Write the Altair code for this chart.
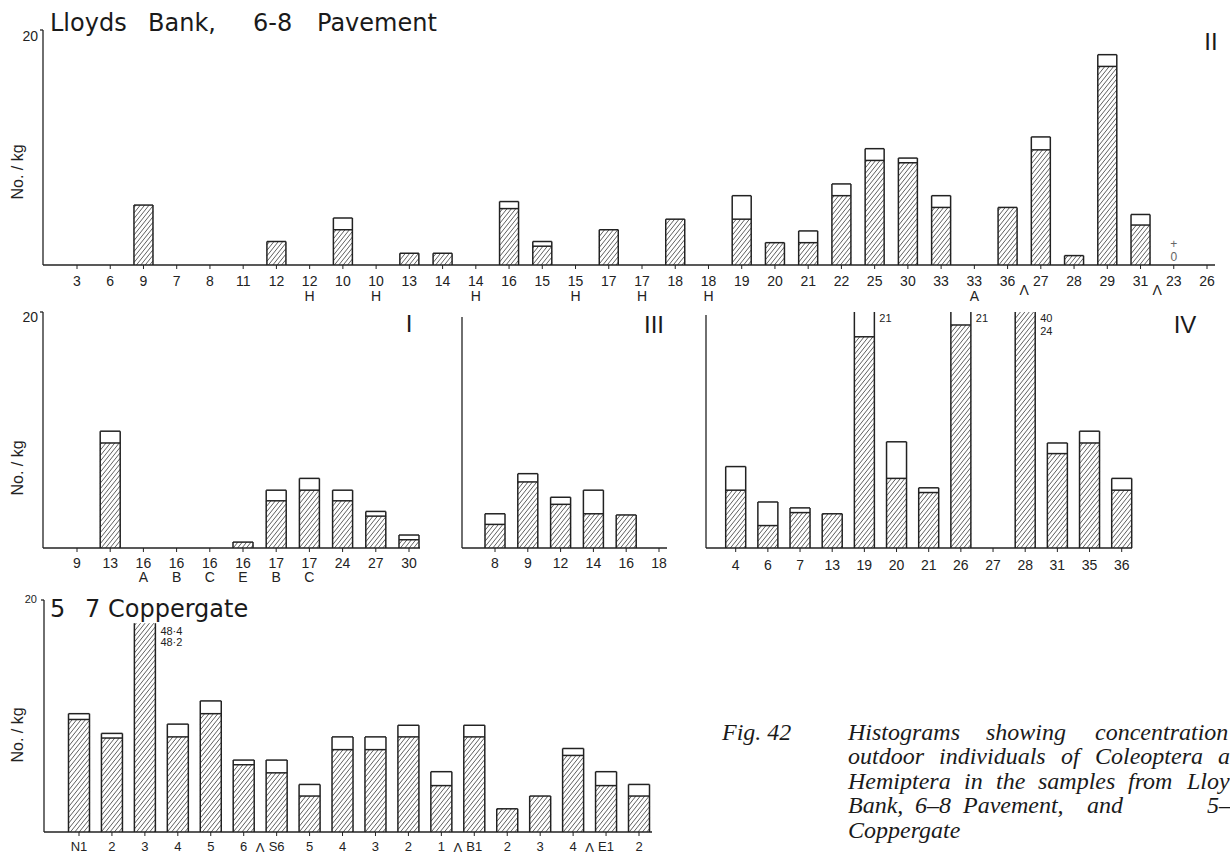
import altair as alt
import pandas as pd

# ---------------------------------------------------------------------------
# Concentrations (No./kg) of outdoor Coleoptera (hatched part of each bar)
# and Coleoptera + Hemiptera (whole bar) per sample.
# A "\n" in a label puts the sub-sample letter on a second line.
# ---------------------------------------------------------------------------

# Lloyds Bank, 6-8 Pavement - period II
ii_labels = ["3", "6", "9", "7", "8", "11", "12", "12\nH", "10", "10\nH", "13", "14",
             "14\nH", "16", "15", "15\nH", "17", "17\nH", "18", "18\nH", "19", "20",
             "21", "22", "25", "30", "33", "33\nA", "36", "27", "28", "29", "31", "23", "26"]
ii_coleoptera = [0, 0, 5.1, 0, 0, 0, 2.0, 0, 3.0, 0, 1.0, 1.0, 0, 4.8, 1.6, 0, 3.0, 0,
                 3.9, 0, 3.9, 1.9, 1.9, 5.9, 8.9, 8.7, 4.9, 0, 4.9, 9.8, 0.8, 16.9, 3.4, 0, 0]
ii_total = [0, 0, 5.1, 0, 0, 0, 2.0, 0, 4.0, 0, 1.0, 1.0, 0, 5.4, 2.0, 0, 3.0, 0,
            3.9, 0, 5.9, 1.9, 2.9, 6.9, 9.9, 9.1, 5.9, 0, 4.9, 10.9, 0.8, 17.9, 4.3, 0, 0]
ii_breaks = [28, 32]              # a caret follows these samples
ii_notes = [(33, "+\n0")]

# period I
i_labels = ["9", "13", "16\nA", "16\nB", "16\nC", "16\nE", "17\nB", "17\nC", "24", "27", "30"]
i_coleoptera = [0, 8.9, 0, 0, 0, 0.5, 4.0, 4.9, 4.0, 2.7, 0.7]
i_total = [0, 9.9, 0, 0, 0, 0.5, 4.9, 5.9, 4.9, 3.1, 1.1]

# period III
iii_labels = ["8", "9", "12", "14", "16", "18"]
iii_coleoptera = [2.0, 5.6, 3.7, 2.9, 2.8, 0]
iii_total = [2.9, 6.3, 4.3, 4.9, 2.8, 0]

# period IV
iv_labels = ["4", "6", "7", "13", "19", "20", "21", "26", "27", "28", "31", "35", "36"]
iv_coleoptera = [4.9, 1.9, 3.0, 2.9, 17.9, 5.9, 4.7, 18.9, 0, 24, 8.0, 8.9, 4.9]
iv_total = [6.9, 3.9, 3.4, 2.9, 21, 9.0, 5.1, 21, 0, 40, 8.9, 9.9, 5.9]

# 5-7 Coppergate
cg_labels = ["N1", "2", "3", "4", "5", "6", "S6", "5", "4", "3", "2", "1", "B1", "2",
             "3", "4", "E1", "2"]
cg_coleoptera = [9.7, 8.1, 48.2, 8.2, 10.2, 5.8, 5.1, 3.1, 7.1, 7.1, 8.2, 4.0, 8.2, 2.0,
                 3.1, 6.6, 4.0, 3.1]
cg_total = [10.2, 8.5, 48.4, 9.3, 11.3, 6.2, 6.2, 4.1, 8.2, 8.2, 9.2, 5.2, 9.2, 2.0,
            3.1, 7.2, 5.2, 4.1]
cg_breaks = [5, 11, 15]

# ---------------------------------------------------------------------------
# Page geometry of each panel (pixels)
# ---------------------------------------------------------------------------
GEOM = {
    "II": dict(first=77, last=1207, base=265, top=30, axis_x=43, axis_top=30, end=1215,
               cap=20, half=9.5, lab_dy=21, lab_lh=15, lab_size=14, mark20=True,
               caret_dy=26),
    "I": dict(first=77, last=409, base=548, top=312, axis_x=43, axis_top=312, end=420,
              cap=20, half=10, lab_dy=20, lab_lh=14, lab_size=14, mark20=True),
    "III": dict(first=495, last=659, base=548, top=312, axis_x=462, axis_top=317, end=667,
                cap=20, half=10, lab_dy=20, lab_lh=14, lab_size=14, mark20=False),
    "IV": dict(first=735.7, last=1121.7, base=548, top=312, axis_x=706, axis_top=315,
               end=1132, cap=20, half=10, lab_dy=22, lab_lh=14, lab_size=14, mark20=False,
               over_dy=1, over_lh=13),
    "CG": dict(first=79, last=639, base=832, top=600, axis_x=44, axis_top=600, end=652,
               cap=18, half=10.5, lab_dy=19, lab_lh=14, lab_size=13, mark20=True,
               over_dy=3, over_lh=11, caret_dy=16),
}

INK = "#222222"
HATCH = "#4d4d4d"
SANS = "Liberation Sans"


def fmt(v):
    return str(int(v)) if float(v).is_integer() else str(v).replace(".", "\u00b7")


def hatch_lines(xl, xr, h, slope=0.8, gap=4.4):
    """Diagonal '/' hatching clipped to a rectangle (pixel units, v measured up)."""
    out = []
    c = (int((xl - slope * h) // gap)) * gap
    while c < xr:
        v0 = max(0.0, (xl - c) / slope)
        v1 = min(h, (xr - c) / slope)
        if v1 > v0 + 0.3:
            out.append((c + slope * v0, v0, c + slope * v1, v1))
        c += gap
    return out


def panel(labels, coleoptera, total, g, breaks=(), notes=()):
    n = len(labels)
    step = (g["last"] - g["first"]) / (n - 1)
    ppu = (g["base"] - g["top"]) / 20.0
    cap = g["cap"]
    hw = g["half"] / step

    def to_x(px):
        return (px - g["first"]) / step

    def to_y(py):
        return (g["base"] - py) / ppu

    xs = alt.Scale(domain=[0, n - 1], range=[g["first"], g["last"]], nice=False, zero=False)
    ys = alt.Scale(domain=[0, 20], range=[g["base"], g["top"]], nice=False, zero=False)

    def enc(ch, two=True):
        e = dict(x=alt.X("x:Q", scale=xs, axis=None), y=alt.Y("y:Q", scale=ys, axis=None))
        if two:
            e.update(x2="x2:Q", y2="y2:Q")
        return ch.encode(**e)

    bars, edges, hatch, over = [], [], [], []
    for i, (c, t) in enumerate(zip(coleoptera, total)):
        if t <= 0:
            continue
        shown = min(t, cap)
        bars.append(dict(x=i - hw, x2=i + hw, y=0, y2=shown))
        edges.append(dict(x=i - hw, x2=i - hw, y=0, y2=shown))
        edges.append(dict(x=i + hw, x2=i + hw, y=0, y2=shown))
        if t <= cap:
            edges.append(dict(x=i - hw, x2=i + hw, y=t, y2=t))
        if 0 < c < t and c <= cap:
            edges.append(dict(x=i - hw, x2=i + hw, y=c, y2=c))
        xl = g["first"] + (i - hw) * step
        xr = g["first"] + (i + hw) * step
        for u0, v0, u1, v1 in hatch_lines(xl, xr, min(c, cap) * ppu):
            hatch.append(dict(x=to_x(u0), y=v0 / ppu, x2=to_x(u1), y2=v1 / ppu))
        if t > cap:
            lines = [fmt(t)] + ([fmt(c)] if c > cap else [])
            over.append(dict(x=i + hw, y=cap, text="\n".join(lines)))

    ax = to_x(g["axis_x"])
    frame = [dict(x=ax, x2=ax, y=0, y2=to_y(g["axis_top"])),
             dict(x=ax, x2=to_x(g["end"]), y=0, y2=0)]
    if g["mark20"]:
        frame.append(dict(x=to_x(g["axis_x"] - 3), x2=ax, y=20, y2=20))
    ticks = [dict(x=i, x2=i, y=0, y2=-4 / ppu) for i in range(n)]

    layers = [
        enc(alt.Chart(pd.DataFrame(bars)).mark_bar(fill="white", strokeWidth=0)),
        enc(alt.Chart(pd.DataFrame(hatch)).mark_rule(color=HATCH, strokeWidth=0.9)),
        enc(alt.Chart(pd.DataFrame(edges)).mark_rule(color=INK, strokeWidth=1.5)),
        enc(alt.Chart(pd.DataFrame(frame)).mark_rule(color=INK, strokeWidth=1.3)),
        enc(alt.Chart(pd.DataFrame(ticks)).mark_rule(color=INK, strokeWidth=1)),
        enc(alt.Chart(pd.DataFrame([dict(x=i, y=0, text=s) for i, s in enumerate(labels)]))
            .mark_text(font=SANS, fontSize=g["lab_size"], color=INK, align="center",
                       baseline="alphabetic", dy=g["lab_dy"], lineBreak="\n",
                       lineHeight=g["lab_lh"]).encode(text="text:N"), two=False),
    ]
    if breaks:
        df = pd.DataFrame([dict(x=b + 0.5, y=0, text="\u039b") for b in breaks])
        layers.append(enc(alt.Chart(df).mark_text(
            font=SANS, fontSize=g["lab_size"], color=INK, align="center",
            baseline="middle", dy=g["caret_dy"]).encode(text="text:N"), two=False))
    if notes:
        df = pd.DataFrame([dict(x=i, y=0, text=s) for i, s in notes])
        layers.append(enc(alt.Chart(df).mark_text(
            font=SANS, fontSize=12, color="#666", align="center", baseline="top",
            dy=-26, lineBreak="\n", lineHeight=13).encode(text="text:N"), two=False))
    if over:
        layers.append(enc(alt.Chart(pd.DataFrame(over)).mark_text(
            font=SANS, fontSize=11, color=INK, align="left", baseline="top", dx=5,
            dy=g["over_dy"], lineBreak="\n", lineHeight=g["over_lh"]).encode(text="text:N"),
            two=False))
    return alt.layer(*layers)


panels = [
    panel(ii_labels, ii_coleoptera, ii_total, GEOM["II"], ii_breaks, ii_notes),
    panel(i_labels, i_coleoptera, i_total, GEOM["I"]),
    panel(iii_labels, iii_coleoptera, iii_total, GEOM["III"]),
    panel(iv_labels, iv_coleoptera, iv_total, GEOM["IV"]),
    panel(cg_labels, cg_coleoptera, cg_total, GEOM["CG"], cg_breaks),
]

# ---------------------------------------------------------------------------
# Page text: site titles, period numerals, axis titles and the caption
# ---------------------------------------------------------------------------
def page_text(rows, **style):
    df = pd.DataFrame(rows, columns=["text", "px", "py"])
    return alt.Chart(df).mark_text(**style).encode(
        x=alt.X("px:Q", scale=None, axis=None),
        y=alt.Y("py:Q", scale=None, axis=None),
        text="text:N")


site_titles = page_text(
    [("Lloyds", 50, 31), ("Bank,", 148, 31), ("6-8", 253, 31), ("Pavement", 317, 31),
     ("5", 50, 617), ("7", 85, 617), ("Coppergate", 108, 617)],
    font="DejaVu Sans", fontSize=24, color="#1a1a1a", align="left", baseline="alphabetic")

numerals = page_text(
    [("II", 1211, 50), ("I", 409, 332), ("III", 654, 333), ("IV", 1185, 333)],
    font=SANS, fontSize=24, color="#1a1a1a", align="center", baseline="alphabetic")

y_titles = page_text(
    [("No. / kg", 18, 172), ("No. / kg", 18, 468), ("No. / kg", 18, 735)],
    font=SANS, fontSize=16, color=INK, align="center", baseline="middle", angle=270)

twenty_big = page_text([("20", 38, 37), ("20", 38, 318)],
                       font=SANS, fontSize=14, color=INK, align="right", baseline="middle")
twenty_small = page_text([("20", 37, 600)],
                         font=SANS, fontSize=11, color=INK, align="right", baseline="middle")

# justified caption, set word by word
caption = page_text(
    [("Fig. 42", 722, 740),
     ("Histograms", 848, 740), ("showing", 986, 740), ("concentration", 1095, 740),
     ("of", 1256, 740),
     ("outdoor", 848, 764), ("individuals", 939, 764), ("of", 1061, 764),
     ("Coleoptera", 1095, 764), ("and", 1218, 764),
     ("Hemiptera", 848, 789), ("in", 964, 789), ("the", 996, 789), ("samples", 1038, 789),
     ("from", 1128, 789), ("Lloyds", 1187, 789),
     ("Bank,", 848, 813), ("6\u20138", 915, 813), ("Pavement,", 963, 813),
     ("and", 1087, 813), ("5\u20137", 1207, 813),
     ("Coppergate", 848, 838)],
    font="Liberation Serif", fontSize=24, fontStyle="italic", color="#1a1a1a",
    align="left", baseline="alphabetic")

chart = alt.layer(
    *panels, site_titles, numerals, y_titles, twenty_big, twenty_small, caption
).resolve_scale(
    x="independent", y="independent"
).properties(
    width=1230, height=855, padding=0,
    autosize=alt.AutoSizeParams(type="none"), background="white"
).configure_view(stroke=None)

chart.save("out.html", embed_options={"renderer": "svg", "actions": False})
